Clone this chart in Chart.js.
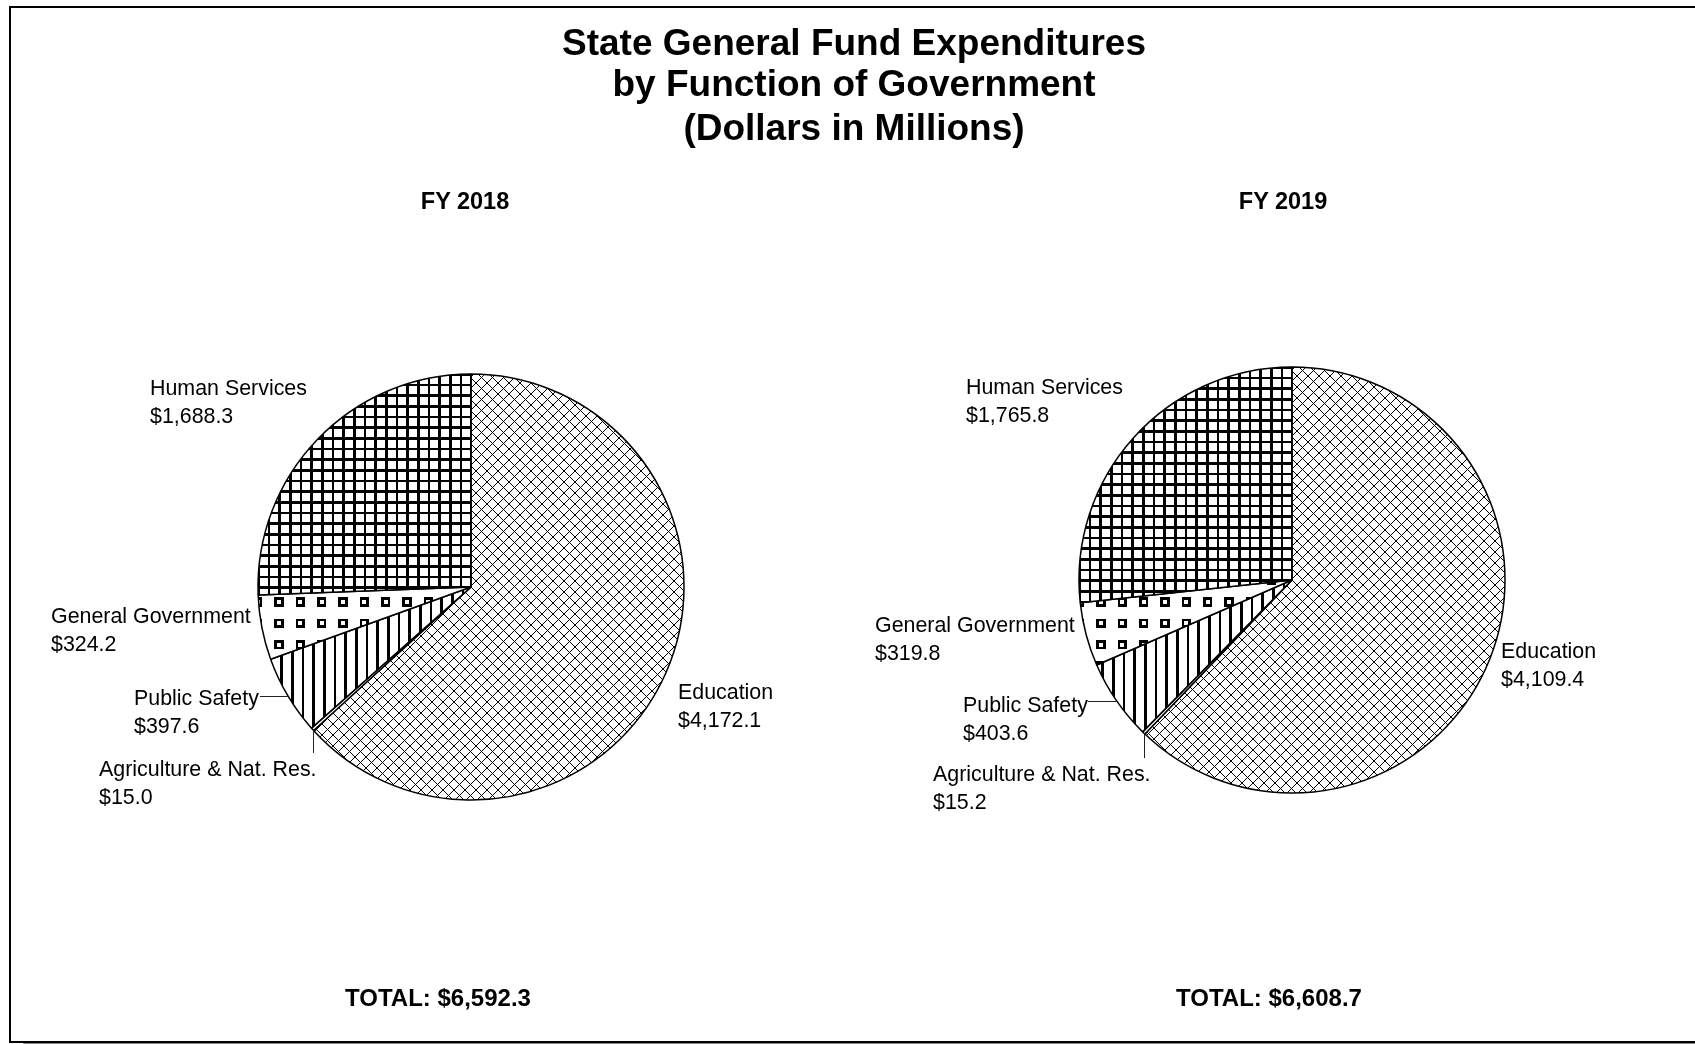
<!DOCTYPE html>
<html><head><meta charset="utf-8">
<script src="https://cdn.jsdelivr.net/npm/chart.js@4.4.1/dist/chart.umd.min.js"></script>
<style>
html,body{margin:0;padding:0;background:#fff;}
body{width:1695px;height:1044px;position:relative;overflow:hidden;font-family:"Liberation Sans",Arial,sans-serif;color:#000;}
#frame{position:absolute;left:9px;top:6px;width:1700px;height:1033px;border-left:2px solid #000;border-top:2px solid #000;border-bottom:2px solid #000;}
#shadow{position:absolute;left:23px;top:1043px;width:1672px;height:1px;background:#8a8a8a;}
canvas{position:absolute;left:0;top:0;}
.t{position:absolute;white-space:nowrap;transform:translate(-50%,-50%);font-weight:bold;}
.title{font-size:37px;}
.sub{font-size:23.5px;}
.tot{font-size:24px;}
.lab{position:absolute;white-space:nowrap;font-size:21.4px;line-height:28px;}
</style></head>
<body>
<div id="frame"></div>
<div id="shadow"></div>
<canvas id="c1" width="1695" height="1044" style="width:1695px;height:1044px"></canvas>
<canvas id="c2" width="1695" height="1044" style="width:1695px;height:1044px"></canvas>
<div id="texts"></div>
<script>
// ---- data ----
const titleLines = ["State General Fund Expenditures", "by Function of Government", "(Dollars in Millions)"];
const categories = ["Education", "Agriculture & Nat. Res.", "Public Safety", "General Government", "Human Services"];
const years = ["FY 2018", "FY 2019"];
const fy2018 = [4172.1, 15.0, 397.6, 324.2, 1688.3];
const fy2019 = [4109.4, 15.2, 403.6, 319.8, 1765.8];
const totals = ["$6,592.3", "$6,608.7"];

// ---- layout ----
const layout = [
  { canvas: "c1", cx: 471, cy: 587, yearX: 465, totalX: 438,
    padding: { left: 0, right: 753, top: 130, bottom: 0 },
    labels: [[678, 692], [99, 769], [134, 698], [51, 616], [150, 388]],
    psLeaderStartX: 260, agLeaderEndY: 753, ggOrigin: [274, 597], psOrigin: [280, 0] },
  { canvas: "c2", cx: 1292, cy: 580, yearX: 1283, totalX: 1269,
    padding: { left: 889, right: 0, top: 116, bottom: 0 },
    labels: [[1501, 651], [933, 774], [963, 705], [875, 625], [966, 387]],
    psLeaderStartX: 1088, agLeaderEndY: 758, ggOrigin: [1096, 597], psOrigin: [1101, 0] }
];
const seriesList = [fy2018, fy2019];

// ---- text ----
const texts = document.getElementById("texts");
function addText(cls, txt, x, y) {
  const d = document.createElement("div");
  d.className = cls; d.textContent = txt;
  d.style.left = x + "px"; d.style.top = y + "px";
  texts.appendChild(d); return d;
}
const titleY = [43, 84, 128];
titleLines.forEach((t, i) => addText("t title", t, 854, titleY[i]));
layout.forEach((L, k) => {
  addText("t sub", years[k], L.yearX, 201);
  addText("t tot", "TOTAL: " + totals[k], L.totalX, 998);
  categories.forEach((c, i) => {
    const v = seriesList[k][i];
    const d = document.createElement("div");
    d.className = "lab";
    d.style.left = L.labels[i][0] + "px";
    d.style.top = (L.labels[i][1] - 14) + "px";
    const l1 = document.createElement("div"); l1.textContent = c;
    const l2 = document.createElement("div");
    l2.textContent = "$" + v.toLocaleString("en-US", { minimumFractionDigits: 1, maximumFractionDigits: 1 });
    d.appendChild(l1); d.appendChild(l2);
    texts.appendChild(d);
  });
});

// ---- patterns (base bitmaps upscaled 4/3 with nearest neighbour) ----
function scaledTile(size, base) {
  const c = document.createElement("canvas"); c.width = size; c.height = size;
  const g = c.getContext("2d");
  g.fillStyle = "#fff"; g.fillRect(0, 0, size, size); g.fillStyle = "#000";
  for (let Y = 0; Y < size; Y++) for (let X = 0; X < size; X++) {
    const x = Math.floor(X * 3 / 4), y = Math.floor(Y * 3 / 4);
    if (base(x, y)) g.fillRect(X, Y, 1, 1);
  }
  return c;
}
function diamondTile(s) {
  const c = document.createElement("canvas"); c.width = s; c.height = s;
  const g = c.getContext("2d");
  g.fillStyle = "#fff"; g.fillRect(0, 0, s, s); g.fillStyle = "#000";
  for (let i = 0; i < s; i++) { g.fillRect(i, i, 1, 1); g.fillRect(s - 1 - i, i, 1, 1); }
  return c;
}
function makePatterns(ctx, L) {
  const ox = Math.round(L.cx) - 1, oy = Math.round(L.cy) - 1;
  const place = (p, tx, ty) => { p.setTransform(new DOMMatrix([1, 0, 0, 1, tx, ty])); return p; };
  const mk = (size, base, tx, ty) => place(ctx.createPattern(scaledTile(size, base), "repeat"), tx, ty);
  const edu = place(ctx.createPattern(diamondTile(11), "repeat"), ox - 5, oy - 5);
  const ps = mk(32, (x, y) => x % 8 < 2, L.psOrigin[0], 0);
  const hs = mk(32, (x, y) => x % 8 < 2 || y % 8 < 2, ox, oy);
  const gg = mk(64, (x, y) => {
    const a = x % 16, b = y % 16;
    if (a > 6 || b > 6) return false;
    return !(a >= 2 && a <= 4 && b >= 2 && b <= 4);
  }, L.ggOrigin[0], L.ggOrigin[1]);
  return [edu, "#ffffff", ps, gg, hs];
}

// ---- leader lines ----
const leaderPlugin = {
  id: "leaders",
  afterDraw(chart, args, opts) {
    const ctx = chart.ctx;
    const arcs = chart.getDatasetMeta(0).data;
    const pt = (a) => {
      const p = a.getProps(["x", "y", "startAngle", "endAngle", "outerRadius"], true);
      const m = (p.startAngle + p.endAngle) / 2;
      return [p.x + p.outerRadius * Math.cos(m), p.y + p.outerRadius * Math.sin(m)];
    };
    ctx.save();
    ctx.strokeStyle = "#222"; ctx.lineWidth = 1;
    const [px, py] = pt(arcs[2]);
    ctx.beginPath();
    ctx.moveTo(opts.psStartX, Math.round(py) + 0.5);
    ctx.lineTo(px, Math.round(py) + 0.5);
    ctx.stroke();
    const [ax, ay] = pt(arcs[1]);
    ctx.beginPath();
    ctx.moveTo(Math.round(ax) + 0.5, ay);
    ctx.lineTo(Math.round(ax) + 0.5, opts.agEndY);
    ctx.stroke();
    ctx.restore();
  }
};

layout.forEach((L, k) => {
  const canvas = document.getElementById(L.canvas);
  const ctx = canvas.getContext("2d");
  new Chart(ctx, {
    type: "pie",
    data: {
      labels: categories,
      datasets: [{
        data: seriesList[k],
        backgroundColor: makePatterns(ctx, L),
        borderColor: "#000",
        borderWidth: 1.5,
        hoverBorderWidth: 1.5,
        hoverOffset: 0,
        offset: 0,
        radius: 213
      }]
    },
    options: {
      responsive: false,
      animation: false,
      events: [],
      radius: 213,
      rotation: 0,
      layout: { padding: L.padding },
      plugins: {
        legend: { display: false },
        tooltip: { enabled: false },
        leaders: { psStartX: L.psLeaderStartX, agEndY: L.agLeaderEndY }
      }
    },
    plugins: [leaderPlugin]
  });
});
</script>
</body></html>
